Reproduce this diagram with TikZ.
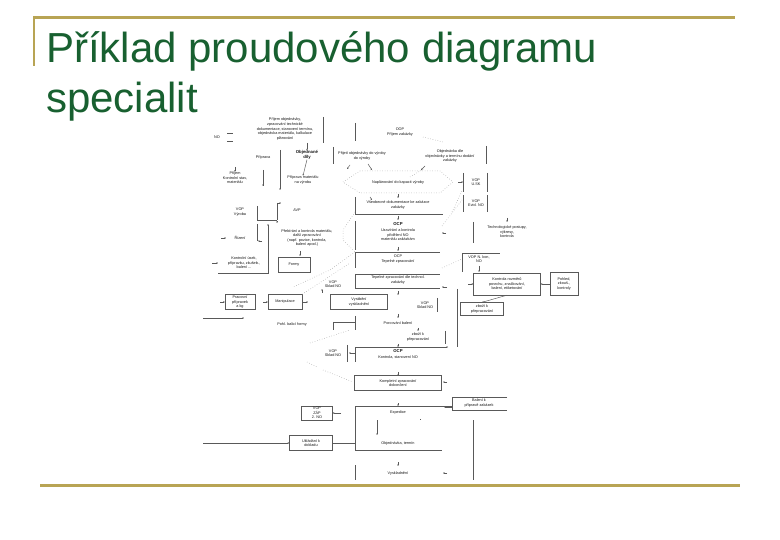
\documentclass[tikz,border=0pt]{standalone}
\usepackage{fontspec}
\setmainfont{Liberation Sans}
\usetikzlibrary{arrows.meta}
\definecolor{gold}{RGB}{184,164,84}
\definecolor{titlegreen}{RGB}{24,96,48}
\tikzset{
  tx/.style={font=\fontsize{3.8}{4.6}\selectfont, text=black!90, align=center, inner sep=0pt},
  tb/.style={tx, font=\fontsize{4.3}{4.8}\selectfont\bfseries},
  ln/.style={draw=black!65, line width=0.45pt},
  bx/.style={ln, fill=white},
  dl/.style={draw=black!40, dotted, line width=0.5pt},
  ar/.style={ln, -{Stealth[length=1.6pt,width=1.6pt]}},
  goldline/.style={draw=gold, line width=3pt},
}
\begin{document}
\begin{tikzpicture}[x=1pt,y=-1pt]
\useasboundingbox (0,0) rectangle (780,540);
\fill[white] (0,0) rectangle (780,540);
% slide frame
\draw[goldline] (33,18) -- (735,18);
\draw[draw=gold, line width=2pt] (34,17) -- (34,66);
\draw[goldline] (40,485) -- (740,485);
\node[anchor=base west, inner sep=0pt, text=titlegreen, font=\fontsize{42}{50}\selectfont] (t1) at (46,63) {Příklad proudového diagramu};
\node[anchor=base west, inner sep=0pt, text=titlegreen, font=\fontsize{42}{50}\selectfont] (t2) at (46,113) {specialit};

% ---------- top left ----------
\node[tx] (n1) at (285,129) {Příjem objednávky,\\ zpracování technické\\ dokumentace, stanovení termínu,\\ objednávka materiálu, kalkulace\\ plánování};
\draw[ln] (323,117) -- (323,143);
\node[tx] (no1) at (217,137) {NO};
\draw[ln] (227,133) -- (233,133) (227,141) -- (233,141);
\node[tx] (pr) at (263,157) {Příprava};
\node[tb] (od) at (307,155) {Objednané\\ díly};
\draw[ar] (307,143) -- (od.north);
\node[tx] (pm) at (303,180) {Příprava materiálu\\ na výrobu};
\draw[ar] (od.south) -- (pm.north);
\node[tx] (ks) at (235,178) {Příjem\\ Kontrolní stav,\\ materiálu};
\draw[ar] (235,167) -- (ks.north);
\draw[ln] (280,150) -- (280,186);
\draw[ar] (280,186) -- (280,190);
\draw[ln] (263,170) -- (263,186);
\draw[ar] (263,183) -- (263,186);

% ---------- top centre ----------
\node[tx] (oop) at (400,132) {OOP\\ Příjem zakázky};
\draw[ln] (355,123) -- (355,141);
\node[tx] (po) at (362,156) {Přijetí objednávky do výroby\\ do výroby};
\draw[ln] (333,147) -- (333,164);
\node[tx] (obj) at (450,156) {Objednávka dle\\ objednávky a termínu dodání\\ zakázky};
\draw[ln] (486,146) -- (486,164);
\node[tx] (nap) at (398,182) {Naplánování do kapacit výroby};
\draw[dl] (343,182) -- (360,171) -- (440,171) -- (453,182) -- (440,193) -- (360,193) -- cycle;
\draw[ar] (368,164) -- (372,170);
\draw[ar] (425,166) -- (421,170);
\draw[ar] (350,165) -- (347,169);
\draw[ar] (370,197) -- (372,200);
\node[tx] (vse) at (398,205) {Všeobecné dokumentace ke zakázce\\ zakázky};
\draw[ar] (398,194) -- (398,198);
\draw[ln] (355,197) -- (355,214) -- (443,214);
\node[tx] (usk) at (476,182) {VOP\\ U.SK};
\draw[ln] (463,173) -- (463,192) (487,173) -- (487,192);
\draw[ar] (458,182) -- (463,182);
\node[tx] (evid) at (476,203) {VOP\\ Evid. NO};
\draw[ln] (463,195) -- (463,212) (487,195) -- (487,212);
\draw[dl] (423,137) -- (443,142);
\draw[dl] (410,177) -- (425,168);
\draw[dl] (442,226) -- (462,200);
\draw[dl] (452,212) -- (462,191);

% ---------- centre column ----------
\node[tb] (ocp1) at (398,224) {OCP};
\node[tx] (uz) at (398,235) {Uzavírání a kontrola\\ přidělení NO\\ materiálu zakázkám};
\draw[ar] (398,216) -- (398,220);
\draw[ln] (355,221) -- (355,250);
\draw[ar] (446,233) -- (442,233);
\node[tx] (tz) at (398,259) {OCP\\ Tepelné zpracování};
\draw[ar] (398,247) -- (398,251);
\draw[ln] (355,268) -- (355,252) -- (440,252);
\node[tx] (tzd) at (398,280) {Tepelné zpracování dle technol.\\ zakázky};
\draw[ln] (355,274) -- (440,274) (355,274) -- (355,288) -- (440,288);
\draw[ar] (447,287) -- (442,287);
\draw[dl] (355,212) -- (343,230) -- (343,240) -- (355,252);
\draw[dl] (355,252) -- (330,270) -- (293,287);
\draw[dl] (442,268) -- (462,259);

% ---------- right side ----------
\node[tx] (tech) at (507,232) {Technologické postupy,\\ výkresy,\\ kontrola};
\draw[ar] (507,218) -- (507,222);
\draw[ln] (473,222) -- (473,243);
\node[tx] (nkon) at (479,259) {VOP N. kon,\\ NO};
\draw[ln] (462,272) -- (462,253) -- (500,253);
\draw[ar] (479,266) -- (479,272);
\node[tx, draw=black!65, inner sep=1.5pt, minimum width=67pt, minimum height=22pt] (kr) at (507,284) {Kontrola rozměrů\\ povrchu, značkování,\\ balení, etiketování};
\node[tx, draw=black!65, inner sep=1pt, minimum width=28pt, minimum height=23pt] (poh) at (564,284) {Pohled,\\ zkouš.,\\ kontroly};
\draw[ar] (poh.west) -- (kr.east);
\draw[ar] (468,284) -- (kr.west);
\node[tx, draw=black!65, inner sep=1.5pt, minimum width=43pt, minimum height=13pt] (zp1) at (482,309) {zboží k\\ přepracování};
\draw[ar] (kr.south) -- (zp1.north);
\draw[ln] (457,289) -- (457,347);

% ---------- left side ----------
\node[tx] (vyr) at (240,212) {VOP\\ Výroba};
\draw[ln] (257,206) -- (257,220) -- (277,220);
\draw[ln] (277,203) -- (277,220);
\draw[ar] (277,203) -- (281,203);
\draw[ar] (277,221) -- (277,223);
\node[tx] (avp) at (297,210) {AVP};
\node[tx] (riz) at (240,238) {Řízení};
\draw[ar] (221,238) -- (226,238);
\draw[ln] (257,224) -- (257,241);
\draw[ar] (262,241) -- (258,241);
\node[tx] (preb) at (307,238) {Přebírání a kontrola materiálu,\\ další zpracování\\ (např. pozice, kontrola,\\ balení apod.)};
\draw[ar] (300,251) -- (300,256);
\node[tx] (kus) at (244,263) {Kontrolní úsek,\\ přípravku, zkušeb.,\\ balení ...};
\draw[ln] (268,226) -- (268,273) -- (218,273);
\draw[ar] (268,226) -- (268,224);
\draw[ar] (212,263) -- (218,263);
\node[tx, draw=black!65, minimum width=32pt, minimum height=15pt] (formy) at (294,265) {Formy};
\node[tx, draw=black!65, minimum width=30pt, minimum height=15pt] (prp) at (240,302) {Pracovní\\ přípravek\\ a kg};
\draw[ar] (220,302) -- (prp.west);
\node[tx, draw=black!65, minimum width=34pt, minimum height=15pt] (man) at (285,302) {Manipulace};
\draw[ar] (263,302) -- (man.west);
\draw[ar] (man.east) -- (308,302);
\draw[dl] (man.north east) -- (350,263);
\coordinate (la) at (203,318);
\coordinate (lb) at (244,318);
\draw[ar] (la) -- (lb);
\node[tx] (pbf) at (292,324) {Pohl. balicí formy};

% ---------- middle lower ----------
\node[tx] (skl1) at (333,284) {VOP\\ Sklad NO};
\draw[ar] (322,293) -- (322,289);
\node[tx, draw=black!65, minimum width=57pt, minimum height=15pt] (vyv) at (359,302) {Vyrábění\\ vyskladnění};
\node[tx] (skl2) at (425,305) {VOP\\ Sklad NO};
\draw[ln] (437,298) -- (437,312);
\draw[ar] (398,291) -- (398,295);
\node[tx] (porc) at (398,323) {Porcování balení};
\draw[ar] (398,314) -- (398,318);
\draw[ln] (355,316) -- (355,330);
\draw[ln] (333,322) -- (355,322) (333,322) -- (333,330);
\node[tx] (zp2) at (418,337) {zboží k\\ přepracování};
\draw[ar] (418,328) -- (418,331);
\draw[ln] (445,331) -- (445,344);
\node[tb] (ocp2) at (398,351) {OCP};
\node[tx] (kno) at (398,357) {Kontrola, stanovení NO};
\draw[ln] (355,362) -- (355,347) -- (446,347);
\draw[ar] (398,344) -- (398,347);
\draw[ar] (446,347) -- (448,347);
\node[tx] (skl3) at (333,353) {VOP\\ Sklad NO};
\draw[ln] (347,345) -- (347,362);
\draw[ar] (355,353) -- (349,353);
\draw[dl] (310,343) -- (350,330);
\draw[dl] (307,362) -- (317,367);
\draw[dl] (323,370) -- (353,382);
\node[tx, draw=black!65, minimum width=87pt, minimum height=15pt] (komp) at (398,383) {Kompletní zpracování\\ dokončení};
\draw[ar] (398,372) -- (398,376);
\draw[ar] (447,382) -- (443,382);
\node[tx] (bal) at (479,403) {Balení k\\ přípravě zakázek};
\draw[ln] (507,397) -- (452,397) -- (452,410) -- (507,410);
\draw[ar] (452,407) -- (444,407);
\node[tx] (exp) at (398,413) {Expedice};
\draw[ln] (355,450) -- (355,406) -- (452,406);
\draw[ar] (398,403) -- (398,406);
\draw[ar] (377,420) -- (377,435);
\draw[ln] (420,419) -- (421,419);
\node[tx] (ot) at (398,443) {Objednávka, termín};
\draw[ln] (355,450) -- (442,450);
\node[tx, draw=black!65, minimum width=31pt, minimum height=14pt] (zap) at (317,413) {VOP\\ ZÁP\\ 2. NO};
\draw[ar] (341,413) -- (zap.east);
\node[tx, draw=black!65, minimum width=43pt, minimum height=15pt] (ukl) at (311,443) {Ukládání k\\ dokladu};
\coordinate (lc) at (203,443);
\draw[ar] (lc) -- (ukl.west);
\draw[ln] (ukl.east) -- (355,443);
\node[tx] (vysk) at (398,473) {Vyskladnění};
\draw[ln] (355,465) -- (355,480);
\draw[ar] (447,473) -- (443,473);
\draw[ar] (398,462) -- (398,466);
\draw[ln] (473,420) -- (473,480);
\end{tikzpicture}
\end{document}
